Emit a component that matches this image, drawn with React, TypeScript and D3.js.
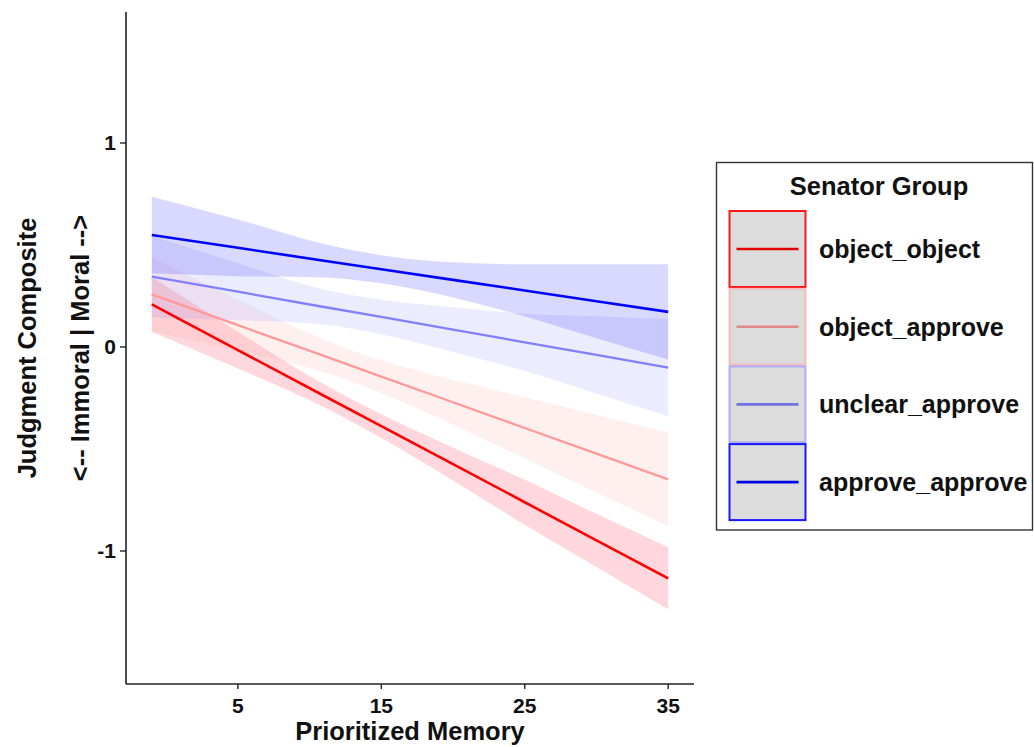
import React from "react";
import * as d3 from "d3";

// ---- data ----
const gridX = [-1, 5, 11, 15, 20, 25, 30, 35];

const groups = ["object_object", "object_approve", "unclear_approve", "approve_approve"];
const lineColors = ["#FF0000", "#FF9999", "#8080FF", "#0000FF"];
const ribbonColors = ["#FF2040", "#FF9999", "#8080FF", "#0000FF"];

const objObjFit = [0.209, -0.015, -0.239, -0.388, -0.574, -0.761, -0.948, -1.134];
const objObjLo = [0.075, -0.105, -0.295, -0.446, -0.654, -0.871, -1.078, -1.286];
const objObjHi = [0.343, 0.075, -0.183, -0.33, -0.494, -0.651, -0.818, -0.982];

const objAppFit = [0.258, 0.107, -0.044, -0.145, -0.271, -0.397, -0.523, -0.649];
const objAppLo = [0.076, -0.018, -0.124, -0.225, -0.381, -0.547, -0.713, -0.88];
const objAppHi = [0.44, 0.232, 0.036, -0.065, -0.161, -0.247, -0.333, -0.418];

const unclAppFit = [0.345, 0.271, 0.196, 0.147, 0.085, 0.023, -0.039, -0.101];
const unclAppLo = [0.145, 0.131, 0.11, 0.062, -0.025, -0.117, -0.229, -0.339];
const unclAppHi = [0.545, 0.411, 0.282, 0.232, 0.195, 0.163, 0.151, 0.137];

const appAppFit = [0.549, 0.486, 0.423, 0.381, 0.329, 0.277, 0.224, 0.172];
const appAppLo = [0.361, 0.347, 0.341, 0.312, 0.243, 0.149, 0.043, -0.061];
const appAppHi = [0.737, 0.625, 0.505, 0.45, 0.415, 0.405, 0.405, 0.405];

const xTicks = [5, 15, 25, 35];
const yTicks = [-1, 0, 1];

const fits = [objObjFit, objAppFit, unclAppFit, appAppFit];
const los = [objObjLo, objAppLo, unclAppLo, appAppLo];
const his = [objObjHi, objAppHi, unclAppHi, appAppHi];

const FONT = "'Liberation Sans', Arial, Helvetica, sans-serif";

export default function App() {
  const W = 1034;
  const H = 747;
  const left = 126, right = 694, top = 12, bottom = 684;

  const x = d3.scaleLinear().domain([-2.8, 36.8]).range([left, right]);
  const y = d3.scaleLinear().domain([-1.652, 1.642]).range([bottom, top]);

  const area = d3
    .area<number>()
    .x((_, i) => x(gridX[i]))
    .curve(d3.curveMonotoneX);
  const line = d3
    .line<number>()
    .x((_, i) => x(gridX[i]))
    .y((d) => y(d));

  const legX = 716.5, legY = 162.5, legW = 316, legH = 367.5;
  const keyX = 729.5, keyY0 = 211, keySize = 76, keyStep = 77.7;

  return (
    <svg
      width={W}
      height={H}
      style={{ position: "absolute", left: 0, top: 0, display: "block", background: "#fff" }}
      fontFamily={FONT}
    >
      <rect x={0} y={0} width={W} height={H} fill="#fff" />
      {/* ribbons */}
      {groups.map((g, k) => (
        <path
          key={"rib" + g}
          d={
            area
              .y0((_, i) => y(los[k][i]))
              .y1((_, i) => y(his[k][i]))(fits[k]) || ""
          }
          fill={ribbonColors[k]}
          fillOpacity={k === 0 ? 0.18 : 0.15}
          stroke="none"
        />
      ))}
      {/* lines */}
      {groups.map((g, k) => (
        <path
          key={"line" + g}
          d={line(fits[k]) || ""}
          fill="none"
          stroke={lineColors[k]}
          strokeWidth={k === 0 || k === 3 ? 2.6 : 2.3}
        />
      ))}
      {/* axes */}
      <line x1={left} x2={left} y1={top} y2={bottom} stroke="#222" strokeWidth={1.6} />
      <line x1={left} x2={right} y1={bottom} y2={bottom} stroke="#222" strokeWidth={1.6} />
      {yTicks.map((t) => (
        <g key={"yt" + t}>
          <line x1={left - 6} x2={left} y1={y(t)} y2={y(t)} stroke="#222" strokeWidth={1.4} />
          <text x={left - 10} y={y(t) + 7.5} textAnchor="end" fontSize={21} fontWeight="bold" fill="#111">
            {t}
          </text>
        </g>
      ))}
      {xTicks.map((t) => (
        <g key={"xt" + t}>
          <line x1={x(t)} x2={x(t)} y1={bottom} y2={bottom + 5} stroke="#222" strokeWidth={1.4} />
          <text x={x(t)} y={712.5} textAnchor="middle" fontSize={21} fontWeight="bold" fill="#111">
            {t}
          </text>
        </g>
      ))}
      <text x={(left + right) / 2} y={740} textAnchor="middle" fontSize={25.5} fontWeight="bold" fill="#111">
        Prioritized Memory
      </text>
      <text
        transform={`translate(36,${(top + bottom) / 2}) rotate(-90)`}
        textAnchor="middle"
        fontSize={25.5}
        fontWeight="bold"
        fill="#111"
      >
        Judgment Composite
      </text>
      <text
        transform={`translate(89,${(top + bottom) / 2}) rotate(-90)`}
        textAnchor="middle"
        fontSize={25.5}
        fontWeight="bold"
        fill="#111"
      >
        {"<-- Immoral | Moral -->"}
      </text>
      {/* legend */}
      <rect x={legX} y={legY} width={legW} height={legH} fill="#fff" stroke="#333" strokeWidth={1.4} />
      <text x={879} y={195} textAnchor="middle" fontSize={25.5} fontWeight="bold" fill="#111">
        Senator Group
      </text>
      {groups.map((g, k) => {
        const ky = keyY0 + k * keyStep;
        const c = d3.color(lineColors[k]);
        const dark = c ? c.darker(0.35).formatHex() : lineColors[k];
        return (
          <g key={"leg" + g}>
            <rect
              x={keyX}
              y={ky}
              width={keySize}
              height={keySize}
              fill="#DCDCDC"
              stroke={lineColors[k]}
              strokeOpacity={k === 1 || k === 2 ? 0.6 : 0.9}
              strokeWidth={2}
            />
            <line
              x1={keyX + 7}
              x2={keyX + keySize - 7}
              y1={ky + keySize / 2}
              y2={ky + keySize / 2}
              stroke={dark}
              strokeWidth={2.6}
            />
            <text x={819} y={ky + keySize / 2 + 9} fontSize={25} fontWeight="bold" fill="#111">
              {g}
            </text>
          </g>
        );
      })}
    </svg>
  );
}
